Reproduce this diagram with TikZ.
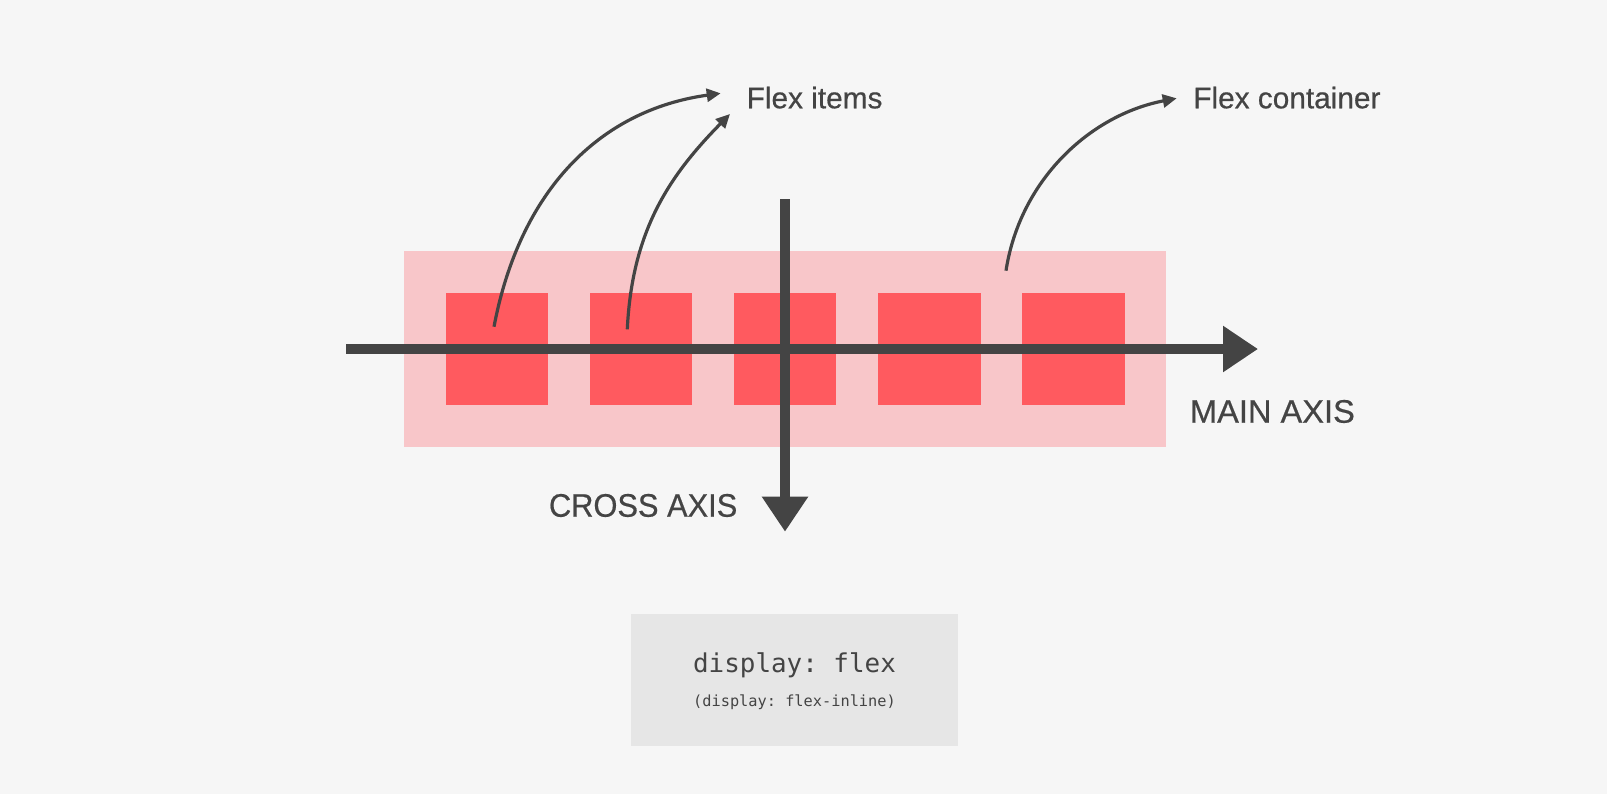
\documentclass[tikz,border=0pt]{standalone}
\usepackage{fontspec}
\setmainfont{Liberation Sans}
\setmonofont{DejaVu Sans Mono}
\newfontfamily\labelfont[UprightFeatures={FakeBold=0.5}]{Liberation Sans}
\newfontfamily\crossfont[UprightFeatures={FakeBold=0.5,FakeStretch=0.945}]{Liberation Sans}
\usetikzlibrary{arrows.meta}
\definecolor{bgc}{HTML}{F6F6F6}
\definecolor{contc}{HTML}{F8C6C9}
\definecolor{itemc}{HTML}{FF5A5F}
\definecolor{ink}{HTML}{444444}
\definecolor{codebg}{HTML}{E6E6E6}
\begin{document}
\begin{tikzpicture}[x=0.5pt,y=-0.5pt,
  itembox/.style={fill=itemc, draw=none, minimum width=51.25pt, minimum height=55.85pt, inner sep=0pt, outer sep=0pt, anchor=north west},
  contbox/.style={fill=contc, draw=none, minimum width=380.85pt, minimum height=97.85pt, inner sep=0pt, outer sep=0pt, anchor=north west},
  codebox/.style={fill=codebg, draw=none, minimum width=163.5pt, minimum height=65.85pt, inner sep=0pt, outer sep=0pt, anchor=north west},
  axisline/.style={draw=ink, line width=5pt, -{Triangle[length=17.5pt,width=22pt]}},
  pointer/.style={draw=ink, line width=1.6pt, -{Triangle[length=7pt,width=6.5pt]}},
  label/.style={text=ink, inner sep=0pt, outer sep=0pt, font=\labelfont\fontsize{14.9pt}{18pt}\selectfont},
  axislabel/.style={text=ink, inner sep=0pt, outer sep=0pt, font=\labelfont\fontsize{16.3pt}{19pt}\selectfont},
]
\fill[bgc] (0,0) rectangle (1607,794);
\useasboundingbox (0,0) rectangle (1607,794);

% container and items
\node[contbox] (container) at (404,251) {};
\node[itembox] (i1) at (445.7,293) {};
\node[itembox] (i2) at (589.8,293) {};
\node[itembox] (i3) at (733.9,293) {};
\node[itembox] (i4) at (878.0,293) {};
\node[itembox] (i5) at (1022.1,293) {};

% labels
\node[label, anchor=base west] (fitems) at (746.7,108.3) {Flex items};
\node[label, anchor=base west] (fcont) at (1193.3,108.3) {Flex container};
\node[axislabel, anchor=base west] (mainl) at (1190,422.7) {MAIN AXIS};
\node[axislabel, font=\crossfont\fontsize{16.3pt}{19pt}\selectfont, anchor=base east] (crossl) at (737.3,516.7) {CROSS AXIS};

% pointer arrows
\coordinate (p1s) at (494,326.7);
\coordinate (p1e) at (720.7,93.3);
\coordinate (p2s) at (627.3,329.3);
\coordinate (p2e) at (730,114);
\coordinate (p3s) at (1006,270.7);
\coordinate (p3e) at (1176.7,98.3);
\draw[pointer] (p1s) .. controls (520,190) and (600,110) .. (p1e);
\draw[pointer] (p2s) .. controls (632,230) and (670,175) .. (p2e);
\draw[pointer] (p3s) .. controls (1020,180) and (1090,115) .. (p3e);

% axes
\coordinate (hs) at (346,349);
\coordinate (he) at (1258,349);
\coordinate (vs) at (785,199);
\coordinate (ve) at (785,531.7);
\draw[axisline] (hs) -- (he);
\draw[axisline] (vs) -- (ve);

% code box
\node[codebox] (code) at (631,614) {};
\node[text=ink, inner sep=0pt, anchor=base, font=\ttfamily\fontsize{12.95pt}{15pt}\selectfont] (c1) at (794.5,672.3) {display: flex};
\node[text=ink, inner sep=0pt, anchor=base, font=\ttfamily\fontsize{7.65pt}{9pt}\selectfont] (c2) at (794.5,706.7) {(display: flex-inline)};
\end{tikzpicture}
\end{document}
